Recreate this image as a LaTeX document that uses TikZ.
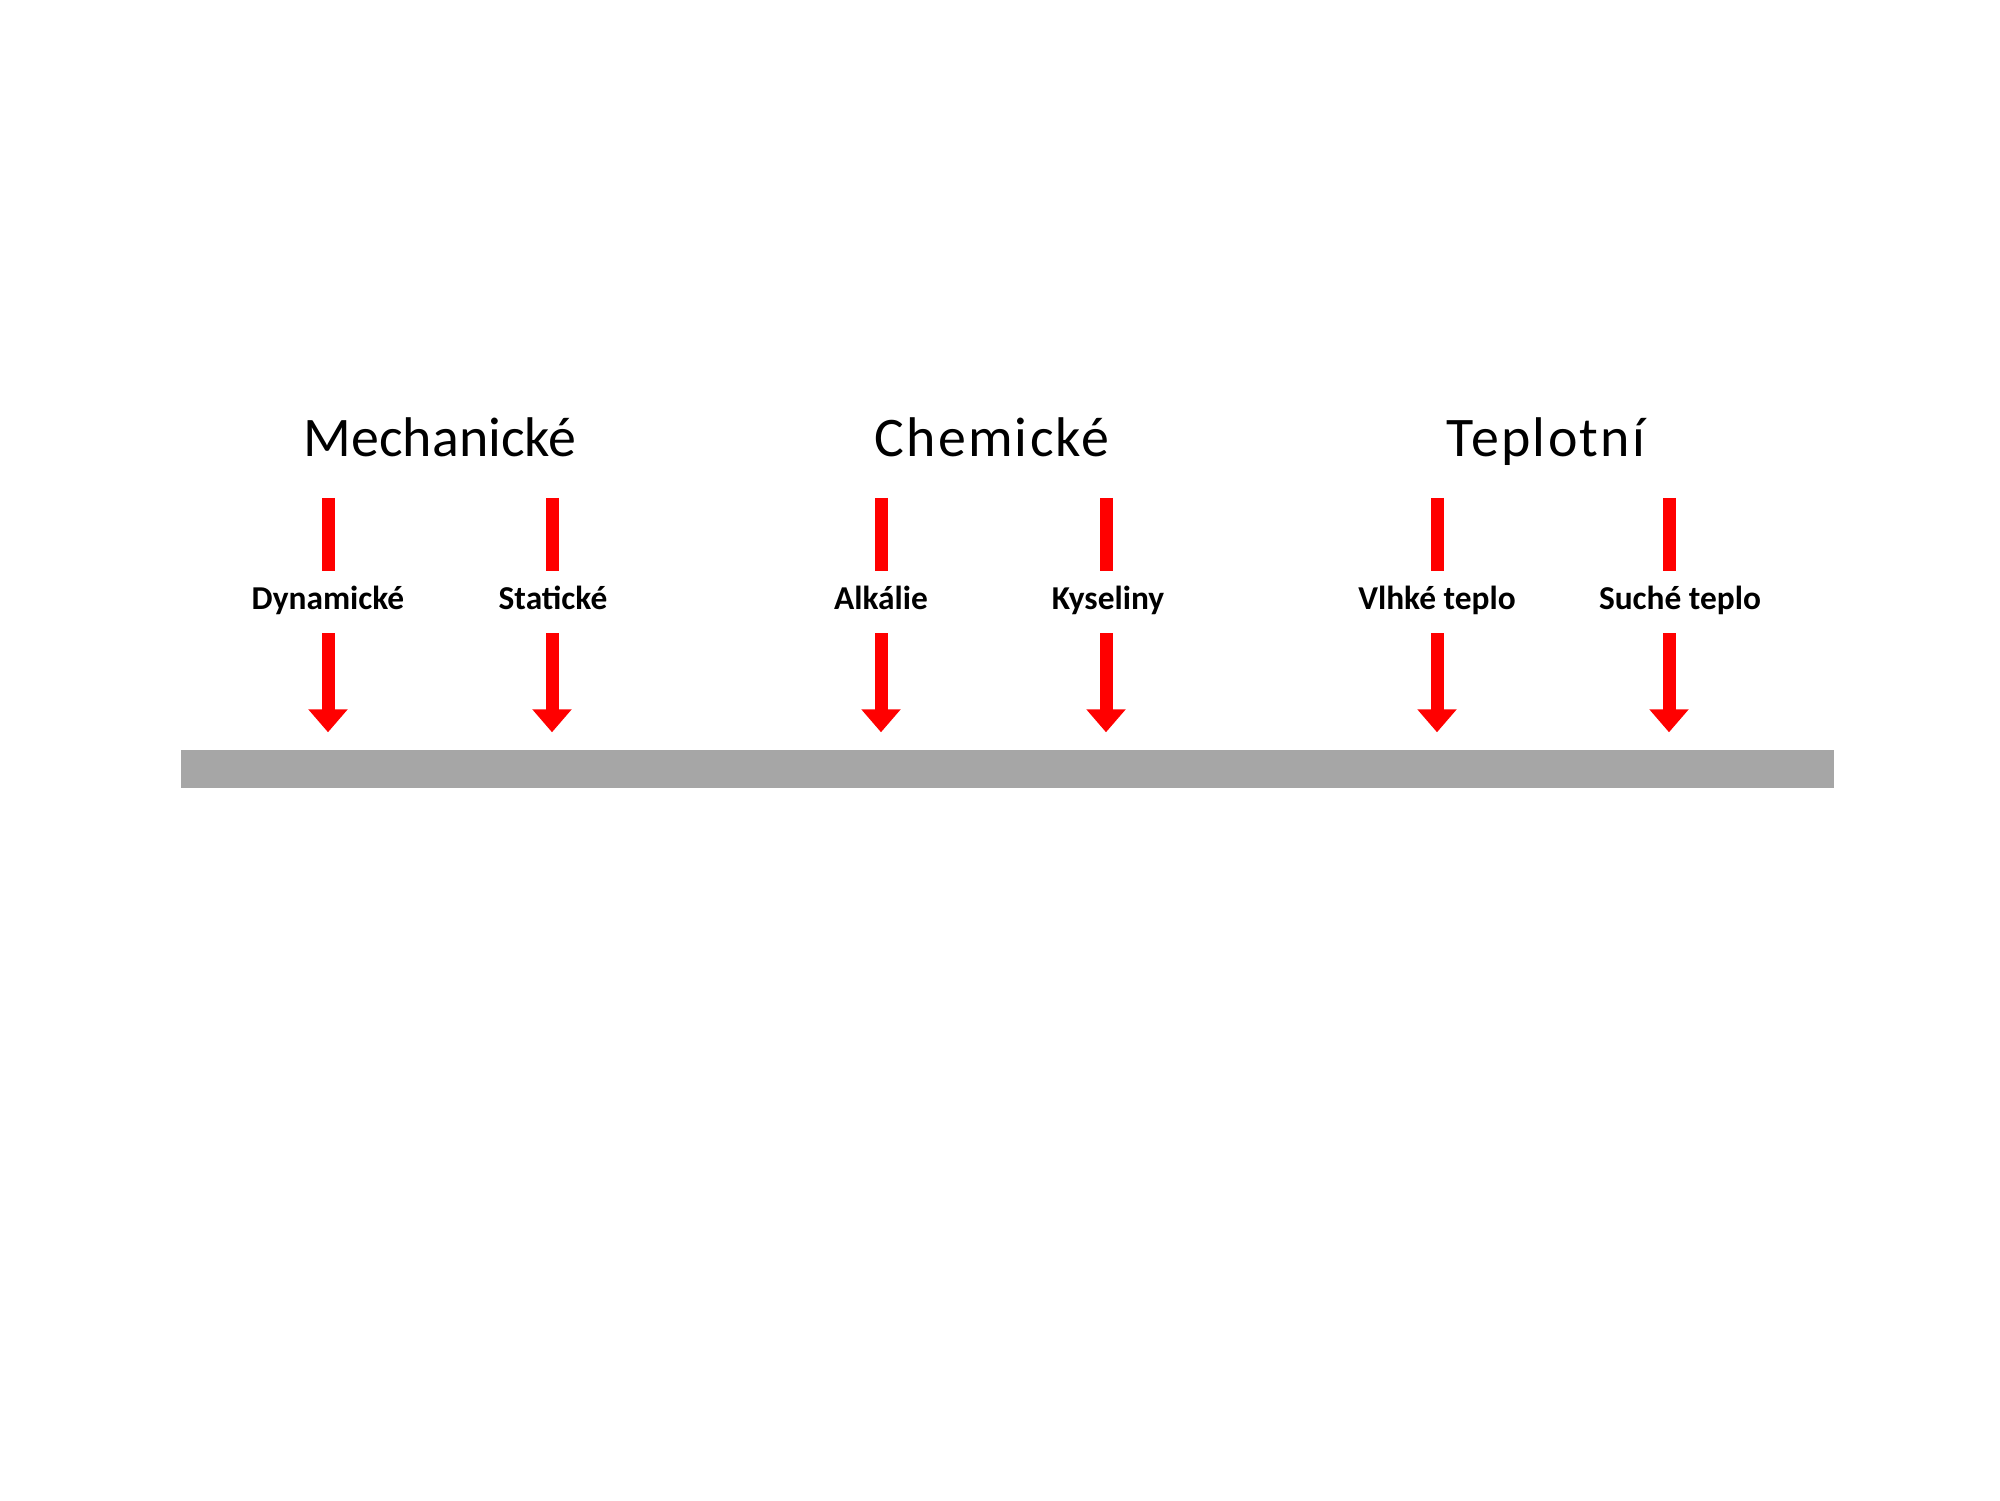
\documentclass[tikz,border=0pt]{standalone}
\usepackage{fontspec}
\setmainfont{Carlito}
\usetikzlibrary{positioning, arrows.meta}
\definecolor{ink}{HTML}{000000}
\definecolor{load}{HTML}{FF0000}
\definecolor{plate}{HTML}{A6A6A6}
\tikzset{
  every node/.style = {text=ink},
  ldhead/.style  = {font=\fontsize{15.9}{18}\selectfont, anchor=base, inner sep=0pt},
  ldlab/.style   = {font=\fontsize{9.5}{11}\selectfont\bfseries, inner sep=0pt,
                    text height=0.7em, text depth=0.25em, minimum height=6.1mm},
  ldstub/.style  = {draw=load, line width=1.3mm},
  ldpush/.style  = {-{Triangle[length=2.3mm,width=3.8mm]}, draw=load, line width=1.3mm,
                    shorten >=1.7mm},
  ldplate/.style = {fill=plate, draw=none, minimum width=165.3mm, minimum height=3.8mm,
                    inner sep=0pt},
}

\begin{document}
\begin{tikzpicture}
\useasboundingbox (0,0) rectangle (20,15);

\node[ldplate] (plate) at (10.075,7.31) {};

\node[ldhead] (mech) at (4.40,10.43) {Mechanické};
\node[ldhead] (chem) at (9.92,10.43) {\addfontfeature{LetterSpace=4}Chemické};
\node[ldhead] (tepl) at (15.46,10.43) {\addfontfeature{LetterSpace=4}Teplotní};

\foreach \x/\n/\t/\dx in {3.28/dyn/Dynamické/0, 5.52/sta/Statické/0.01,
    8.81/alk/Alkálie/0, 11.06/kys/Kyseliny/0.02,
    14.37/vlh/Vlhké teplo/0, 16.69/suc/Suché teplo/0.11}{
  \coordinate (top\n) at (\x,10.02);
  \node[ldlab] (\n) at (\x+\dx,8.98) {\t};
  \draw[ldstub] (top\n) -- (top\n |- \n.north);
  \draw[ldpush] (top\n |- \n.south) -- (top\n |- plate.north);
}
\end{tikzpicture}
\end{document}
